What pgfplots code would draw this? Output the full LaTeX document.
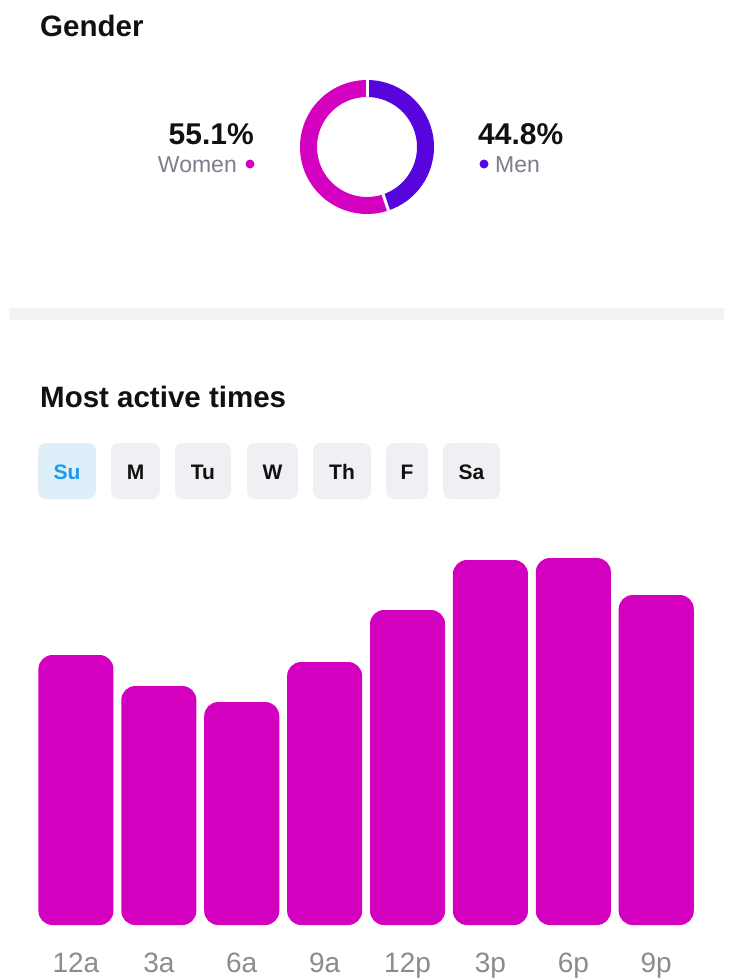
\documentclass[border=0pt]{standalone}
\usepackage{fontspec}
\setmainfont{Liberation Sans}
\usepackage{pgfplots}
\pgfplotsset{compat=1.18}
\usetikzlibrary{calc}
\definecolor{barmag}{HTML}{D300C0}
\definecolor{men}{HTML}{5606DC}
\definecolor{tabbg}{HTML}{F0F0F4}
\definecolor{subg}{HTML}{DEEFFA}
\definecolor{sublue}{HTML}{1B9BF0}
\definecolor{ticklab}{HTML}{8C8C90}
\definecolor{sublab}{HTML}{7B7F8C}
\definecolor{sepgray}{HTML}{F3F3F3}
\definecolor{ink}{HTML}{111111}
\pgfplotstableread{
x val
0 270
1 239
2 223
3 263
4 315
5 365
6 367
7 330
}\activetimes
\begin{document}
\begin{tikzpicture}
\fill[white] (0pt,0pt) rectangle (738pt,-978pt);
\path[use as bounding box] (0pt,0pt) rectangle (738pt,-978pt);
% Gender section
\node[anchor=base west, inner sep=0, text=ink, font=\bfseries\fontsize{29.5}{32}\selectfont] at (40pt,-36pt) {Gender};
\node[anchor=base east, inner sep=0, text=ink, font=\bfseries\fontsize{30}{33}\selectfont] at (254pt,-144pt) {55.1\%};
\node[anchor=base east, inner sep=0, text=sublab, font=\fontsize{23}{26}\selectfont] at (237pt,-172pt) {Women};
\fill[barmag] (250pt,-164pt) circle (4.5pt);
\node[anchor=base west, inner sep=0, text=ink, font=\bfseries\fontsize{30}{33}\selectfont] at (478pt,-144pt) {44.8\%};
\fill[men] (484pt,-164pt) circle (4.5pt);
\node[anchor=base west, inner sep=0, text=sublab, font=\fontsize{23}{26}\selectfont] at (495pt,-172pt) {Men};
% donut
\pgfmathsetmacro{\menpct}{44.8}
\pgfmathsetmacro{\womenpct}{55.1}
\pgfmathsetmacro{\menend}{90-3.6*\menpct}
\coordinate (C) at (367pt,-147pt);
\draw[men, line width=17pt] ($(C)+(90:58.5pt)$) arc[start angle=90, end angle=\menend, radius=58.5pt];
\draw[barmag, line width=17pt] ($(C)+(\menend:58.5pt)$) arc[start angle=\menend, end angle=-270, radius=58.5pt];
\draw[white, line width=3pt] ($(C)+(90:48pt)$) -- ($(C)+(90:69pt)$);
\draw[white, line width=3pt] ($(C)+(\menend:48pt)$) -- ($(C)+(\menend:69pt)$);
% separator
\fill[sepgray] (9pt,-308pt) rectangle (724pt,-320pt);
% Most active times
\node[anchor=base west, inner sep=0, text=ink, font=\bfseries\fontsize{29.5}{32}\selectfont] at (40pt,-407pt) {Most active times};
% tabs
\foreach \xa/\xb/\lab/\bg/\fg in {38/96/Su/subg/sublue, 111/160/M/tabbg/ink, 175/231/Tu/tabbg/ink, 247/298/W/tabbg/ink, 313/371/Th/tabbg/ink, 386/428/F/tabbg/ink, 443/500/Sa/tabbg/ink}{
  \fill[\bg, rounded corners=8pt] (\xa pt,-443pt) rectangle (\xb pt,-499pt);
  \node[text=\fg, inner sep=0, font=\bfseries\fontsize{21}{24}\selectfont, anchor=base] at ({(\xa+\xb)/2*1pt},-479pt) {\lab};
}
% bar chart
\begin{axis}[
  at={(34.5pt,-925pt)}, anchor=south west,
  scale only axis, width=663.2pt, height=400pt,
  xmin=-0.5, xmax=7.5, ymin=0, ymax=400,
  axis line style={draw=none},
  ytick=\empty,
  xtick={0,1,2,3,4,5,6,7},
  xticklabels={12a,3a,6a,9a,12p,3p,6p,9p},
  major tick length=0pt,
  xticklabel style={anchor=base, yshift=-47pt, text=ticklab, font=\fontsize{28}{30}\selectfont},
  clip=false,
]
\addplot[ybar, bar width=0.905, fill=barmag, draw=none, rounded corners=14pt] table[x=x, y=val] {\activetimes};
\end{axis}
\end{tikzpicture}
\end{document}
